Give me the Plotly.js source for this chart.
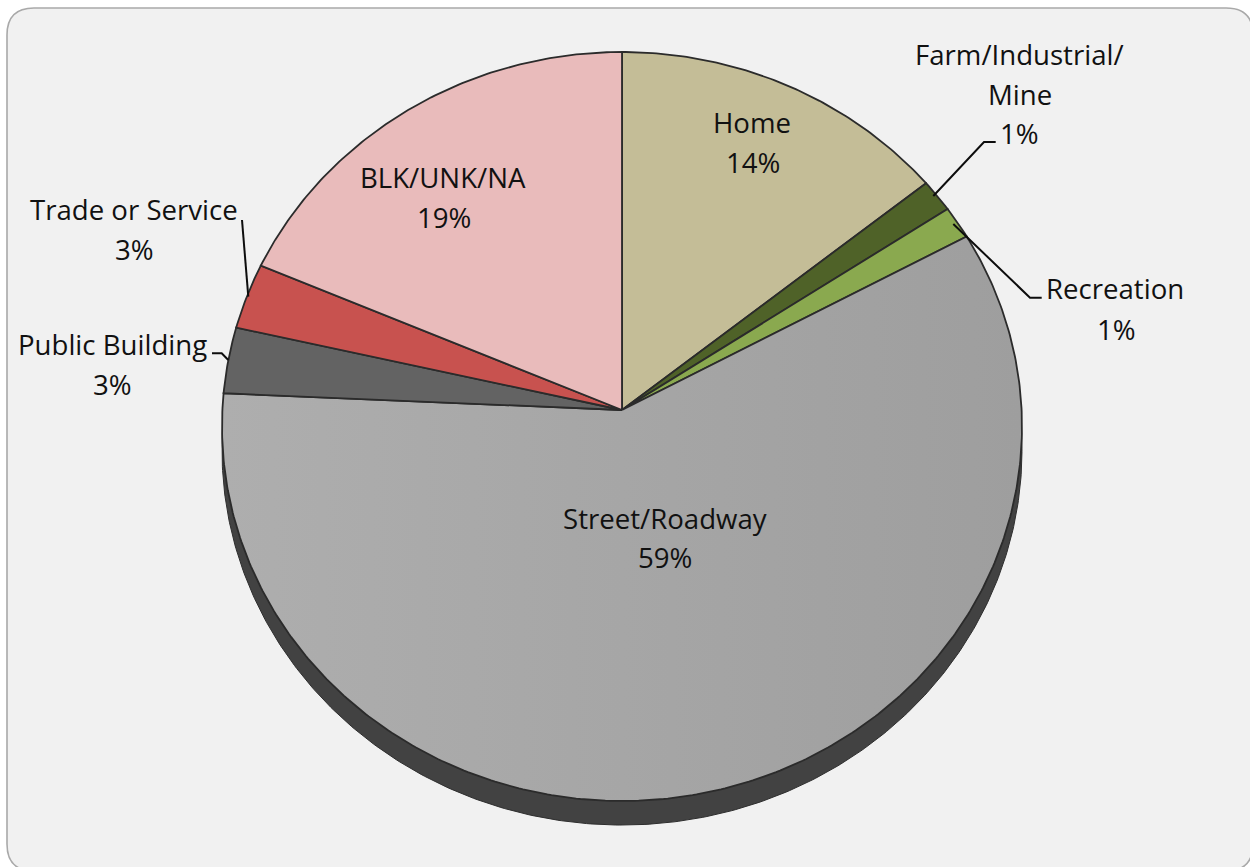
<!DOCTYPE html>
<html>
<head>
<meta charset="utf-8">
<script src="https://cdn.plot.ly/plotly-3.0.1.min.js"></script>
<style>html,body{margin:0;padding:0;background:#fff}#chart{width:1250px;height:867px}</style>
</head>
<body>
<div id="chart"></div>
<script>
// Data: counts, clockwise from 12 o'clock
var categories = ['Home', 'Farm/Industrial/ Mine', 'Recreation', 'Street/Roadway', 'Public Building', 'Trade or Service', 'BLK/UNK/NA'];
var counts = [10, 1, 1, 41, 2, 2, 13];
var sliceColors = ['#c4bd97', '#4f6228', '#8aa94f', '#a6a6a6', '#636363', '#c8524f', '#e9bbbb'];

var FONT = '"Open Sans", sans-serif';
var CX = 622, CY = 410, A = 399.6, B = 373.8, K = 0.0441, DEPTH = 24;

// Projection of the tilted pie disc
function project(theta, dy) {
  var w = 1 + K * Math.cos(theta);
  return [CX + A * Math.sin(theta) / w, CY - B * Math.cos(theta) / w + (dy || 0)];
}
var total = counts.reduce(function (a, b) { return a + b; }, 0);

function arcPoints(t0, t1, dy) {
  var n = Math.max(2, Math.ceil((t1 - t0) / 0.01)), pts = [];
  for (var i = 0; i <= n; i++) pts.push(project(t0 + (t1 - t0) * i / n, dy));
  return pts;
}

var traces = [];
// Side wall of the disc
var wall = arcPoints(0, 2 * Math.PI, DEPTH);
traces.push({
  type: 'scatter', mode: 'lines', hoverinfo: 'skip', showlegend: false,
  x: wall.map(function (p) { return p[0]; }), y: wall.map(function (p) { return p[1]; }),
  fill: 'toself', fillcolor: '#424242', line: { color: '#2e2e2e', width: 1 }
});
// Slices
var cum = 0;
counts.forEach(function (c, i) {
  var t0 = cum / total * 2 * Math.PI;
  cum += c;
  var t1 = cum / total * 2 * Math.PI;
  var pts = [[CX, CY]].concat(arcPoints(t0, t1)).concat([[CX, CY]]);
  var tr = {
    type: 'scatter', mode: 'lines', name: categories[i], showlegend: false, hoverinfo: 'name',
    x: pts.map(function (p) { return p[0]; }), y: pts.map(function (p) { return p[1]; }),
    fill: 'toself', fillcolor: sliceColors[i], line: { color: '#2b2b2b', width: 1.8 }
  };
  if (categories[i] === 'Street/Roadway') {
    tr.fillgradient = { type: 'horizontal', colorscale: [[0, '#aeaeae'], [1, '#9e9e9e']] };
  }
  traces.push(tr);
});

function pct(i) { return Math.round(counts[i] / total * 100) + '%'; }

// Label lines: [text, x, y]
var labelLines = [
  ['Home', 752, 122], [pct(0), 753, 162],
  ['Farm/Industrial/', 1019.5, 54], ['Mine', 1019.5, 94], [pct(1), 1019.5, 133],
  ['Recreation', 1115, 288], [pct(2), 1116, 329],
  ['Street/Roadway', 665, 518], [pct(3), 665, 557],
  ['Public Building', 112, 344], [pct(4), 112, 384],
  ['Trade or Service', 134, 209], [pct(5), 134, 249],
  ['BLK/UNK/NA', 443, 177], [pct(6), 444, 217]
];
var annotations = labelLines.map(function (l) {
  return {
    text: l[0], x: l[1], y: l[2], xref: 'x', yref: 'y', showarrow: false,
    xanchor: 'center', yanchor: 'middle',
    font: { family: FONT, size: 27.6, color: '#111111' }
  };
});

function line(d, w) { return { type: 'path', xref: 'x', yref: 'y', layer: 'above', path: d, line: { color: '#0d0d0d', width: w || 2 } }; }

var layout = {
  width: 1250, height: 867, autosize: false,
  margin: { l: 0, r: 0, t: 0, b: 0 },
  paper_bgcolor: '#ffffff', plot_bgcolor: '#ffffff',
  showlegend: false,
  xaxis: { range: [0, 1250], visible: false, fixedrange: true },
  yaxis: { range: [867, 0], visible: false, fixedrange: true },
  annotations: annotations,
  shapes: [
    { type: 'path', xref: 'x', yref: 'y', layer: 'below',
      path: 'M7,35 Q7,8 34,8 L1226,8 Q1253,8 1253,35 L1253,844 Q1253,871 1226,871 L34,871 Q7,871 7,844 Z',
      fillcolor: '#f1f1f1', line: { color: '#a9a9a9', width: 1.6 } },
    line('M933.3,196 L984,142 L995.7,142'),
    line('M953.3,224 L1030,297.7 L1041.7,297.7'),
    line('M248.3,296.7 L242,220'),
    line('M228.3,360 L221.7,353.3 L212,353.3')
  ]
};

Plotly.newPlot('chart', traces, layout, { displayModeBar: false, staticPlot: true });
</script>
</body>
</html>
